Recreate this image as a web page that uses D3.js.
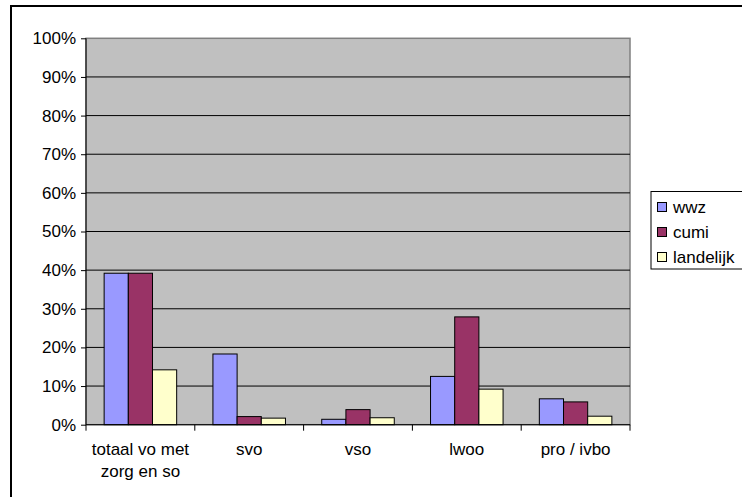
<!DOCTYPE html>
<html>
<head>
<meta charset="utf-8">
<script src="https://cdn.jsdelivr.net/npm/d3@7"></script>
<style>
    body { margin: 0; background: #fff; }
    svg { display: block; font-family: Arial, "Liberation Sans", sans-serif; }
    .axis text { font-size: 17px; fill: #000; }
</style>
</head>
<body>
<div id="field"></div>
<script>

// data

const categories = ["totaal vo met|zorg en so", "svo", "vso", "lwoo", "pro / ivbo"];
const seriesNames = ["wwz", "cumi", "landelijk"];
const wwz = [39.2, 18.3, 1.4, 12.5, 6.7];
const cumi = [39.2, 2.1, 3.9, 27.9, 5.9];
const landelijk = [14.2, 1.7, 1.8, 9.2, 2.2];
const yTicks = [0, 10, 20, 30, 40, 50, 60, 70, 80, 90, 100];

const colors = ["#9999ff", "#993366", "#ffffcc"];

const data = categories.map(function(c, i) {
    return {cat: c, values: [wwz[i], cumi[i], landelijk[i]]};
});

// sizes

const width = 742;
const height = 497;
const plotLeft = 86;
const plotRight = 630;
const plotTop = 38.3;
const plotBottom = 424.7;

const chart = d3.select("#field")
    .append("svg")
    .attr("width", width)
    .attr("height", height);

// outer chart border, runs off the right and bottom edge
chart.append("rect")
    .attr("x", 11)
    .attr("y", 6)
    .attr("width", 800)
    .attr("height", 600)
    .attr("fill", "none")
    .attr("stroke", "#000")
    .attr("stroke-width", 2);

// scales

const xScale = d3.scaleBand()
    .domain(categories)
    .range([plotLeft, plotRight]);

const barWidth = xScale.bandwidth() / 4.5;

const xInner = d3.scaleBand()
    .domain(seriesNames)
    .range([barWidth * 0.75, xScale.bandwidth() - barWidth * 0.75]);

const yScale = d3.scaleLinear()
    .domain([0, 100])
    .range([plotBottom, plotTop]);

// plot area

chart.append("rect")
    .attr("x", plotLeft)
    .attr("y", plotTop)
    .attr("width", plotRight - plotLeft)
    .attr("height", plotBottom - plotTop)
    .attr("fill", "#c0c0c0")
    .attr("stroke", "#808080")
    .attr("stroke-width", 1.5);

chart.append("g").selectAll("line")
    .data(yTicks.filter(function(t) { return t > 0 && t < 100; }))
    .enter().append("line")
    .attr("x1", plotLeft)
    .attr("x2", plotRight)
    .attr("y1", function(d) { return yScale(d); })
    .attr("y2", function(d) { return yScale(d); })
    .attr("stroke", "#000")
    .attr("stroke-width", 1);

// bars

const groups = chart.append("g").selectAll("g")
    .data(data)
    .enter().append("g")
    .attr("transform", function(d) { return "translate(" + xScale(d.cat) + ",0)"; });

groups.selectAll("rect")
    .data(function(d) { return d.values.map(function(v, j) { return {name: seriesNames[j], value: v, j: j}; }); })
    .enter().append("rect")
    .attr("x", function(d) { return xInner(d.name); })
    .attr("y", function(d) { return yScale(d.value); })
    .attr("width", xInner.bandwidth())
    .attr("height", function(d) { return plotBottom - yScale(d.value); })
    .attr("fill", function(d) { return colors[d.j]; })
    .attr("stroke", "#000")
    .attr("stroke-width", 1);

// y axis

const yAxis = d3.axisLeft(yScale)
    .tickValues(yTicks)
    .tickFormat(function(d) { return d + "%"; })
    .tickSize(5)
    .tickPadding(5);

const yG = chart.append("g")
    .attr("class", "axis")
    .attr("transform", "translate(" + plotLeft + ",0)")
    .call(yAxis);
yG.select(".domain").attr("stroke", "#000").attr("d", "M0," + plotTop + "V" + plotBottom);
yG.selectAll("text").attr("font-family", "Arial, 'Liberation Sans', sans-serif").attr("font-size", 17);

// x axis with ticks between categories

const xG = chart.append("g")
    .attr("class", "axis")
    .attr("transform", "translate(0," + plotBottom + ")");

xG.append("line")
    .attr("x1", plotLeft)
    .attr("x2", plotRight)
    .attr("stroke", "#000");

xG.selectAll(".tick")
    .data(categories.concat(["end"]))
    .enter().append("line")
    .attr("x1", function(d, i) { return plotLeft + i * xScale.step(); })
    .attr("x2", function(d, i) { return plotLeft + i * xScale.step(); })
    .attr("y1", 0)
    .attr("y2", 6)
    .attr("stroke", "#000");

const xLabels = xG.selectAll(".label")
    .data(categories)
    .enter().append("text")
    .attr("class", "label")
    .attr("text-anchor", "middle")
    .attr("font-size", 17)
    .attr("x", function(d) { return xScale(d) + xScale.bandwidth() / 2; });

xLabels.selectAll("tspan")
    .data(function(d) { return d.split("|"); })
    .enter().append("tspan")
    .attr("x", function() { return d3.select(this.parentNode).attr("x"); })
    .attr("y", function(d, i) { return 30 + i * 22; })
    .text(function(d) { return d; });

// legend

const legend = chart.append("g")
    .attr("transform", "translate(651,191.5)");

legend.append("rect")
    .attr("width", 120)
    .attr("height", 77.5)
    .attr("fill", "#fff")
    .attr("stroke", "#000")
    .attr("stroke-width", 1);

const items = legend.selectAll(".item")
    .data(seriesNames)
    .enter().append("g")
    .attr("transform", function(d, i) { return "translate(0," + (15.5 + i * 25) + ")"; });

items.append("rect")
    .attr("x", 6.5)
    .attr("y", -4.5)
    .attr("width", 9)
    .attr("height", 9)
    .attr("fill", function(d, i) { return colors[i]; })
    .attr("stroke", "#000");

items.append("text")
    .attr("x", 22)
    .attr("dy", "0.35em")
    .attr("font-size", 17)
    .text(function(d) { return d; });

</script>
</body>
</html>
